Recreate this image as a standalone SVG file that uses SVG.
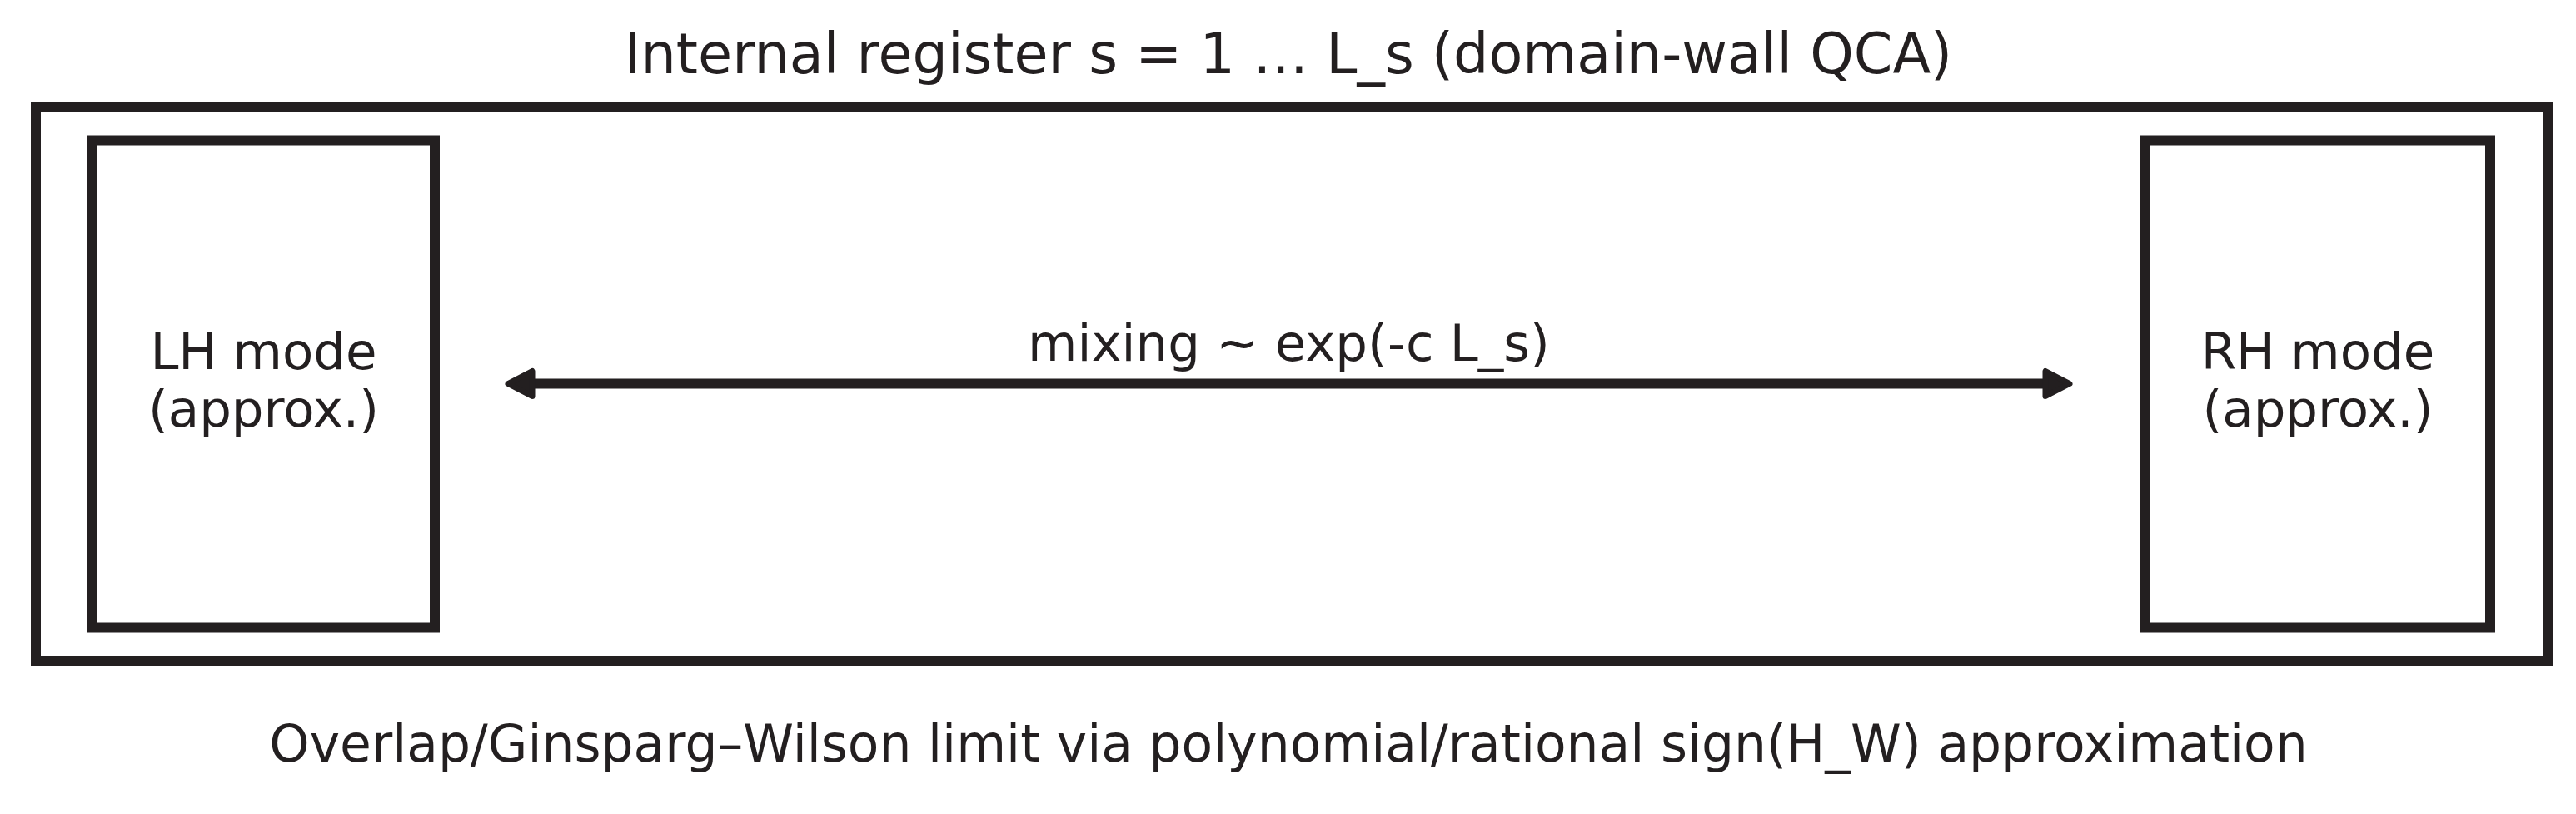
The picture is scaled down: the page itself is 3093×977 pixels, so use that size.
<svg xmlns="http://www.w3.org/2000/svg" width="3093" height="977" viewBox="0 0 3093 977">
<style>
.box{fill:none;stroke:#231f20;stroke-width:12}
.t{font-family:"DejaVu Sans",sans-serif;fill:#231f20;text-anchor:middle}
.line{stroke:#231f20;stroke-width:12;fill:none}
.head{fill:#231f20;stroke:#231f20;stroke-width:7;stroke-linejoin:round}
</style>
<rect width="3093" height="977" fill="#ffffff"/>
<text class="t" x="1547" y="88" font-size="66.8">Internal register s = 1 … L_s (domain-wall QCA)</text>
<g id="register">
<rect class="box" x="43" y="128.5" width="3016" height="664.5"/>
</g>
<g id="lh">
<rect class="box" x="111" y="168.5" width="411" height="585"/>
<text class="t" x="316.5" y="443" font-size="61">LH mode</text>
<text class="t" x="316.5" y="512" font-size="61">(approx.)</text>
</g>
<g id="rh">
<rect class="box" x="2576" y="168.5" width="414" height="585"/>
<text class="t" x="2783" y="443" font-size="61">RH mode</text>
<text class="t" x="2783" y="512" font-size="61">(approx.)</text>
</g>
<g id="connectors">
<line class="line" x1="635" y1="460.5" x2="2460" y2="460.5"/>
<polygon class="head" points="610,460.5 639,445.5 639,475.5"/>
<polygon class="head" points="2485,460.5 2456,445.5 2456,475.5"/>
<text class="t" x="1547.5" y="433" font-size="61">mixing ~ exp(-c L_s)</text>
</g>
<text class="t" x="1547" y="914" font-size="61.5">Overlap/Ginsparg–Wilson limit via polynomial/rational sign(H_W) approximation</text>
</svg>
